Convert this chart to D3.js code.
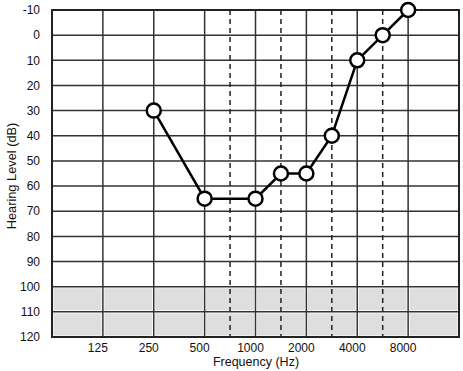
<!DOCTYPE html>
<html>
<head>
<meta charset="utf-8">
<script src="https://cdn.jsdelivr.net/npm/d3@7"></script>
<style>
  body { margin: 0; background: #fff; }
  text { font-family: "Liberation Sans", Arial, sans-serif; fill: #111; }
</style>
</head>
<body>
<div id="chart"></div>
<script>
// octave ticks (solid) and inter-octave ticks (dashed)
const octaves = [125, 250, 500, 1000, 2000, 4000, 8000];
const halfOctaves = [750, 1500, 3000, 6000];
const levelTicks = [-10, 0, 10, 20, 30, 40, 50, 60, 70, 80, 90, 100, 110, 120];

// audiogram thresholds
const freqs = [250, 500, 1000, 1500, 2000, 3000, 4000, 6000, 8000];
const levels = [30, 65, 65, 55, 55, 40, 10, 0, -10];

const width = 463, height = 371;
const margin = {top: 10, right: 4, bottom: 34, left: 52};

const svg = d3.select("#chart").append("svg")
    .attr("width", width)
    .attr("height", height);

// audiogram convention: inter-octave frequencies sit halfway between octaves
function octavePos(f) {
    if (halfOctaves.includes(f)) return Math.log2(f / 1.5 / 125) + 0.5;
    return Math.log2(f / 125);
}

const xs = d3.scaleLinear()
    .domain([-1, 7])
    .range([margin.left, width - margin.right]);
const x = f => xs(octavePos(f));

const y = d3.scaleLinear()
    .domain([-10, 120])
    .range([margin.top, height - margin.bottom]);

// grey band for 100-120 dB, drawn cell by cell
const bandRows = [[100, 110], [110, 120]];
bandRows.forEach(function (r) {
    for (let i = -1; i < 7; i++) {
        svg.append("rect")
            .attr("x", xs(i) + 1.5)
            .attr("y", y(r[0]) + 1.5)
            .attr("width", xs(i + 1) - xs(i) - 3)
            .attr("height", y(r[1]) - y(r[0]) - 3)
            .attr("fill", "#dedede");
    }
});

// horizontal grid
svg.selectAll(".hline")
    .data(levelTicks)
    .enter().append("line")
    .attr("class", "hline")
    .attr("x1", xs.range()[0]).attr("x2", xs.range()[1])
    .attr("y1", d => y(d)).attr("y2", d => y(d))
    .attr("stroke", "#333").attr("stroke-width", 1.5);

// vertical grid
svg.selectAll(".vline")
    .data(octaves)
    .enter().append("line")
    .attr("class", "vline")
    .attr("x1", d => x(d)).attr("x2", d => x(d))
    .attr("y1", y.range()[0]).attr("y2", y.range()[1])
    .attr("stroke", "#333").attr("stroke-width", 1.5);

svg.selectAll(".dline")
    .data(halfOctaves)
    .enter().append("line")
    .attr("class", "dline")
    .attr("x1", d => x(d)).attr("x2", d => x(d))
    .attr("y1", y.range()[0]).attr("y2", y.range()[1])
    .attr("stroke", "#222").attr("stroke-width", 1.5)
    .attr("stroke-dasharray", "5,4");

// frame
svg.append("rect")
    .attr("x", xs.range()[0]).attr("y", y.range()[0])
    .attr("width", xs.range()[1] - xs.range()[0])
    .attr("height", y.range()[1] - y.range()[0])
    .attr("fill", "none").attr("stroke", "#222").attr("stroke-width", 2);

// tick labels
svg.selectAll(".ylab")
    .data(levelTicks)
    .enter().append("text")
    .attr("class", "ylab")
    .attr("x", 40)
    .attr("y", d => y(d))
    .attr("dy", "0.35em")
    .attr("text-anchor", "end")
    .style("font-size", "12px")
    .text(d => d);

svg.selectAll(".xlab")
    .data(octaves)
    .enter().append("text")
    .attr("class", "xlab")
    .attr("x", d => x(d) - 5)
    .attr("y", 348)
    .attr("dy", "0.35em")
    .attr("text-anchor", "middle")
    .style("font-size", "12px")
    .text(d => d);

// axis titles
svg.append("text")
    .attr("x", 256).attr("y", 362)
    .attr("dy", "0.35em")
    .attr("text-anchor", "middle")
    .style("font-size", "12.5px")
    .text("Frequency (Hz)");

svg.append("text")
    .attr("transform", "translate(12,176) rotate(-90)")
    .attr("dy", "0.35em")
    .attr("text-anchor", "middle")
    .style("font-size", "12.8px")
    .text("Hearing Level (dB)");

// line + markers
const pts = freqs.map((f, i) => [x(f), y(levels[i])]);
svg.append("path")
    .attr("d", d3.line()(pts))
    .attr("fill", "none")
    .attr("stroke", "#000")
    .attr("stroke-width", 2.5);

svg.selectAll(".pt")
    .data(pts)
    .enter().append("circle")
    .attr("class", "pt")
    .attr("cx", d => d[0]).attr("cy", d => d[1])
    .attr("r", 7)
    .attr("fill", "#fff")
    .attr("stroke", "#000")
    .attr("stroke-width", 2.5);
</script>
</body>
</html>
